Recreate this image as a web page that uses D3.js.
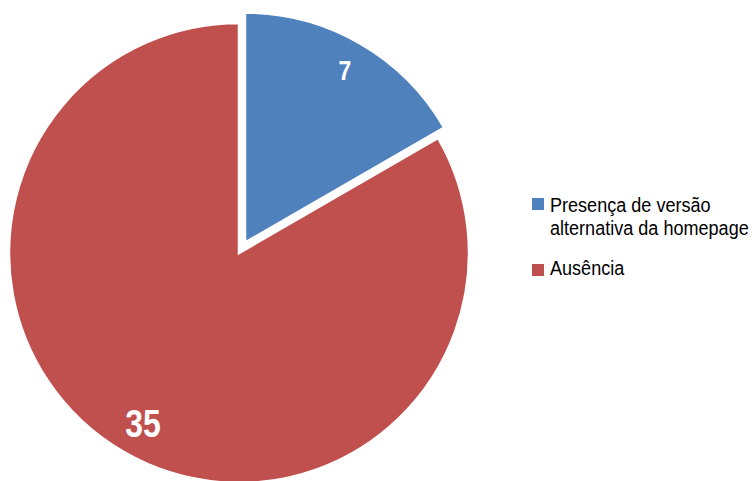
<!DOCTYPE html>
<html>
<head>
<meta charset="utf-8">
<script src="https://cdn.jsdelivr.net/npm/d3@7"></script>
<style>
  body { margin: 0; background: #fff; }
  svg { display: block; }
</style>
</head>
<body>
<div class="container"></div>
<script>
const wd = 755
const ht = 481

// data
const categories = ["Presença de versão alternativa da homepage", "Ausência"]
const values = [7, 35]
const legendLines = [["Presença de versão", "alternativa da homepage"], ["Ausência"]]
const colors = ["#4F81BD", "#C0504D"]
const explode = [12, 0]

// no Arial Narrow here, so squeeze Liberation Sans horizontally
const font = "'Liberation Sans', Arial, sans-serif"
const squeeze = 0.82
const legendSqueeze = 0.86

const svgC = d3.select(".container")
.append("svg")
.attr("width", wd)
.attr("height", ht)

const cx = 239, cy = 253, r = 230

const pie = d3.pie().sort(null).value(d => d)
const arcs = pie(values)
const arc = d3.arc().innerRadius(0).outerRadius(r)

const pieGroup = svgC.append("g")
.attr("transform", "translate(" + cx + " " + cy + ")")

const slices = pieGroup.selectAll("g.slice")
.data(arcs)
.enter()
.append("g")
.attr("class", "slice")
.attr("transform", (d, i) => {
  const a = (d.startAngle + d.endAngle) / 2
  return "translate(" + (Math.sin(a) * explode[i]) + " " + (-Math.cos(a) * explode[i]) + ")"
})

slices.append("path")
.attr("d", arc)
.attr("fill", (d, i) => colors[i])
.attr("stroke", "#fff")
.attr("stroke-width", 2.5)

// value labels (page coords)
const labelPos = [[345, 80, 28], [143, 437, 39]]
svgC.append("g").selectAll("g")
.data(arcs)
.enter()
.append("g")
.attr("transform", (d, i) => "translate(" + labelPos[i][0] + " " + labelPos[i][1] + ") scale(" + squeeze + " 1)")
.append("text")
.attr("text-anchor", "middle")
.attr("fill", "#fff")
.attr("font-family", font)
.attr("font-weight", "bold")
.attr("font-size", (d, i) => labelPos[i][2] + "px")
.text(d => d.data)

// legend
const legendY = [212, 275]

const items = svgC.append("g").selectAll("g.item")
.data(categories)
.enter()
.append("g")
.attr("class", "item")

items.append("rect")
.attr("x", 532)
.attr("y", (d, i) => legendY[i] - 14 + (i === 1 ? 3 : 0))
.attr("width", 12)
.attr("height", 12)
.attr("fill", (d, i) => colors[i])

items.append("g")
.attr("transform", (d, i) => "translate(550 " + legendY[i] + ") scale(" + legendSqueeze + " 1)")
.append("text")
.attr("font-family", font)
.attr("font-size", "21px")
.attr("fill", "#000")
.selectAll("tspan")
.data((d, i) => legendLines[i])
.enter()
.append("tspan")
.attr("x", 0)
.attr("dy", (d, j) => j === 0 ? 0 : 23)
.text(d => d)
</script>
</body>
</html>
